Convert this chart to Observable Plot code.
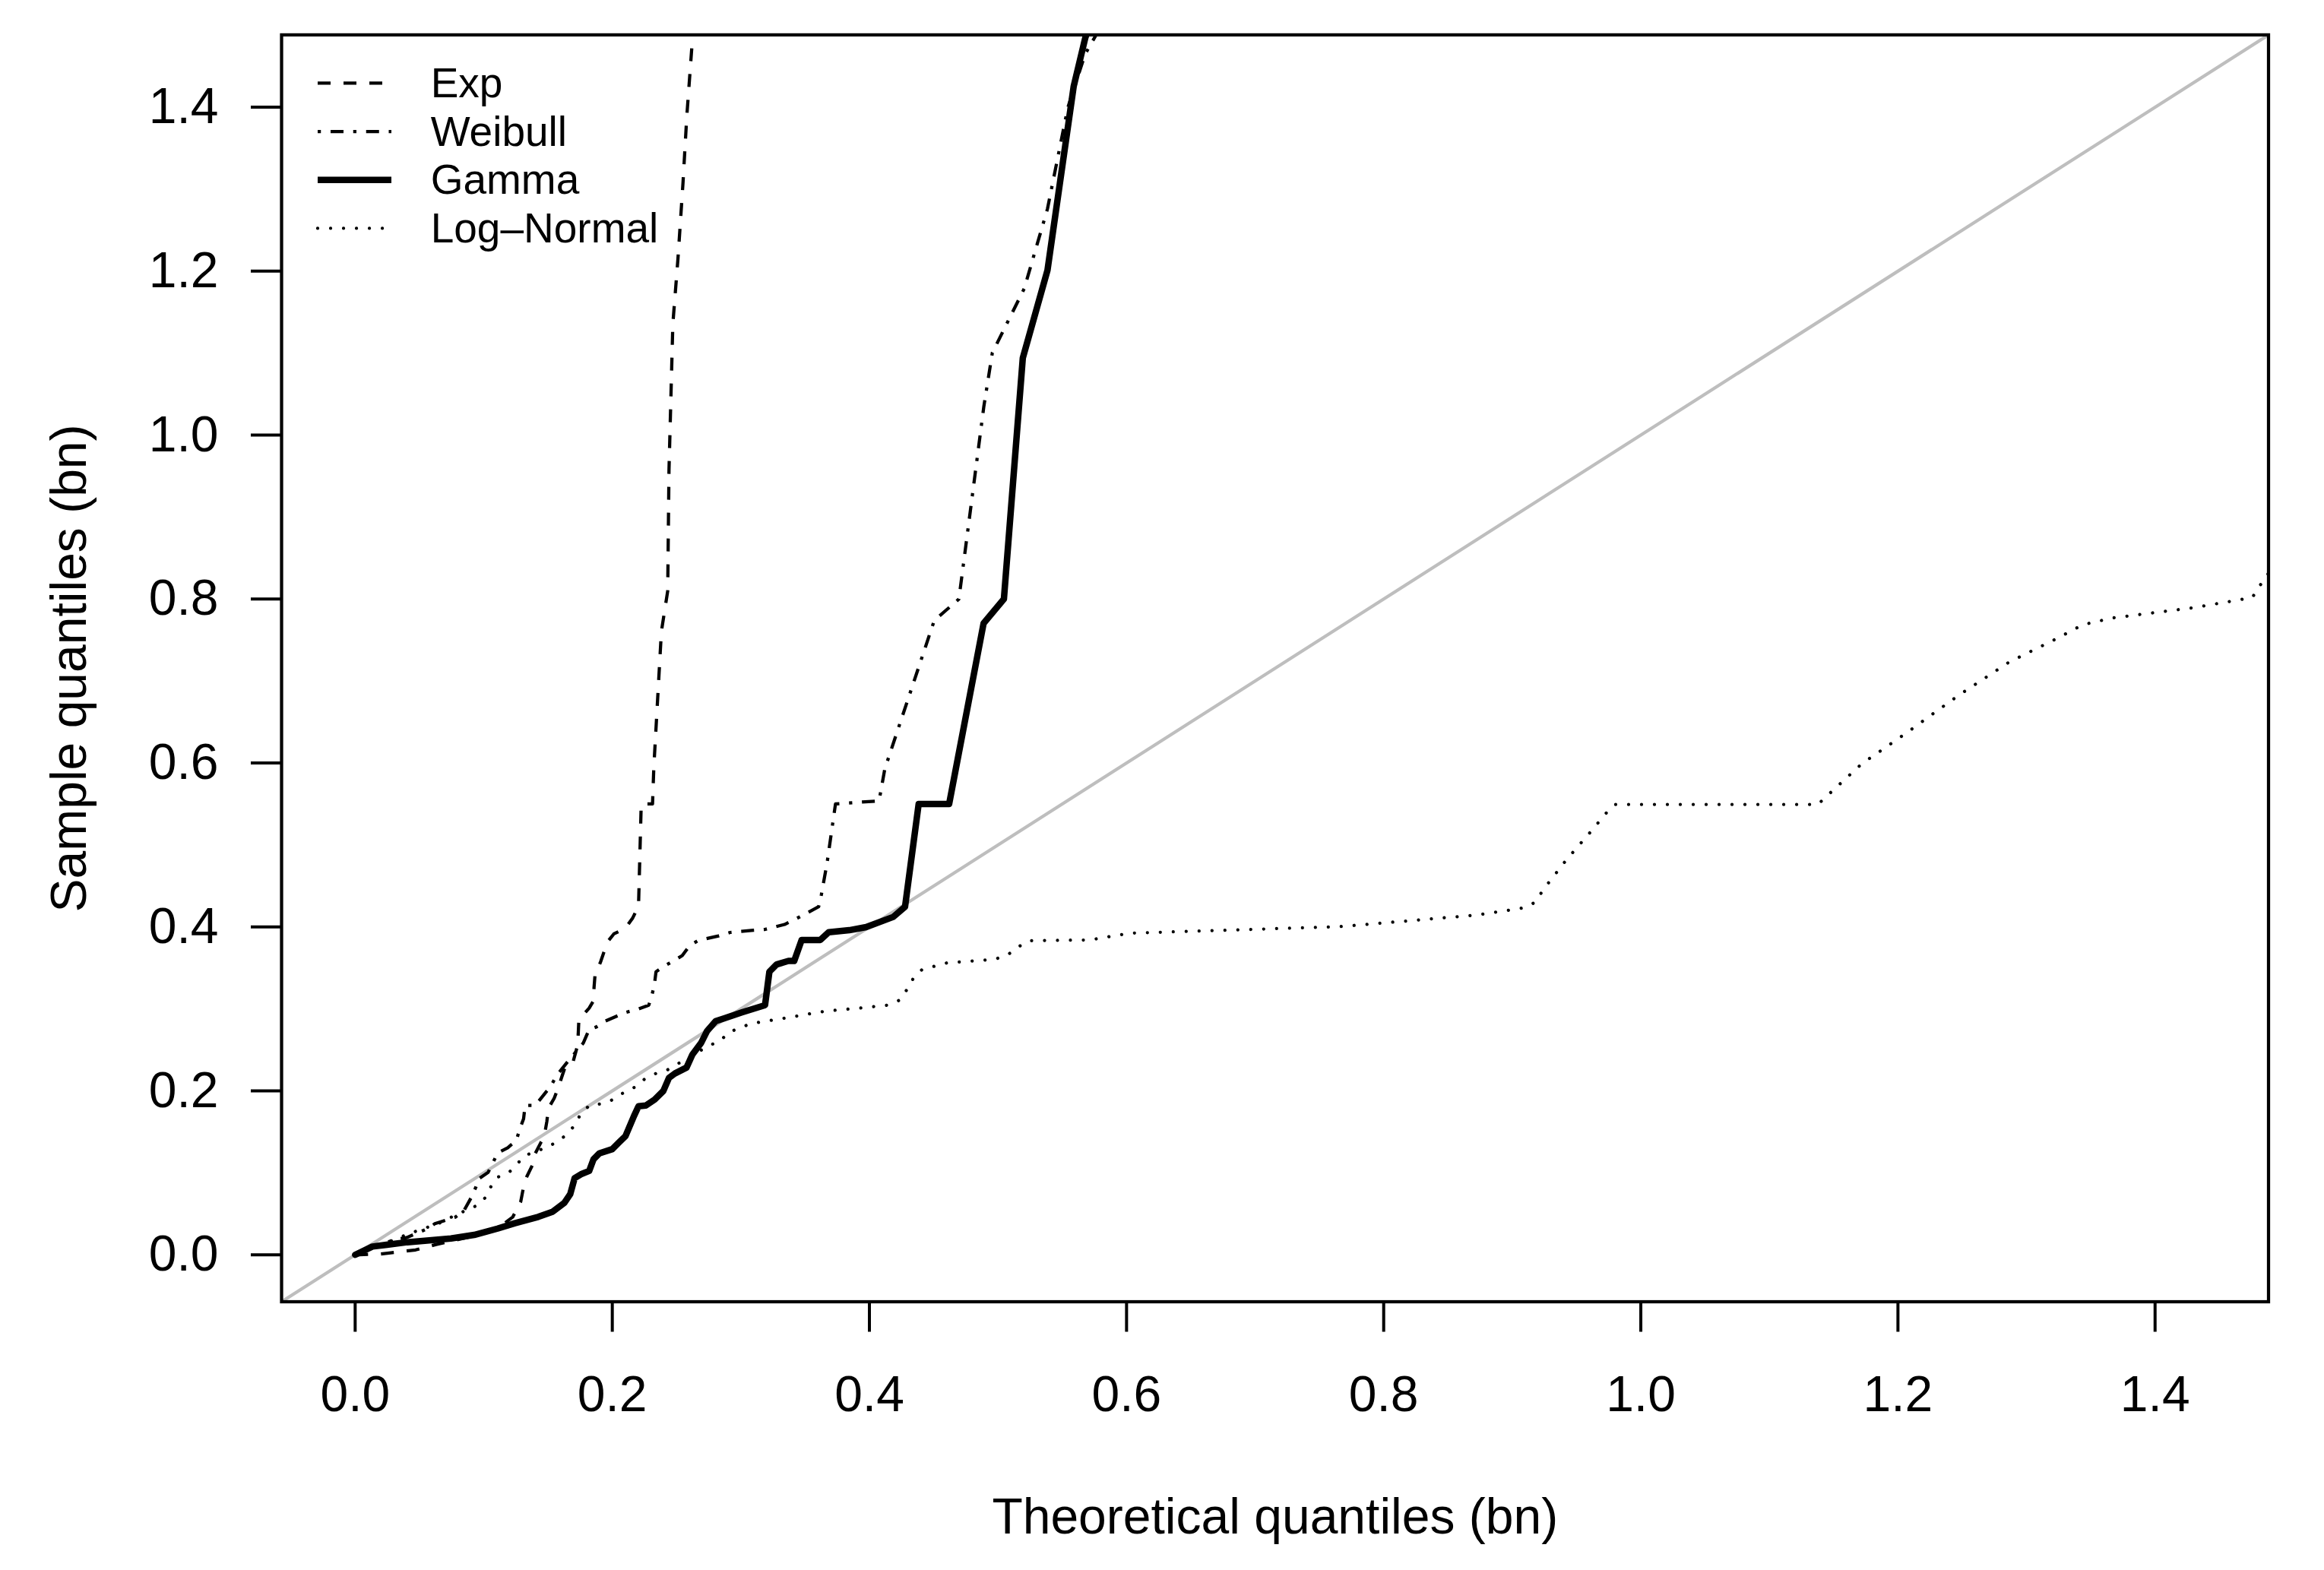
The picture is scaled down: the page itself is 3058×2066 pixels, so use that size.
<!DOCTYPE html>
<html>
<head>
<meta charset="utf-8">
<script src="https://cdn.jsdelivr.net/npm/d3@7"></script>
<script src="https://cdn.jsdelivr.net/npm/@observablehq/plot@0.6"></script>
<style>
html, body { margin: 0; padding: 0; background: #fff; }
#wrap { position: relative; width: 3058px; height: 2066px; }
#legend { position: absolute; left: 0; top: 0; pointer-events: none; }
</style>
</head>
<body>
<div id="wrap"></div>
<script>
// ---------- DATA ----------
const xTitle = "Theoretical quantiles (bn)";
const yTitle = "Sample quantiles (bn)";
const xTicks = [0, 0.2, 0.4, 0.6, 0.8, 1.0, 1.2, 1.4];
const yTicks = [0, 0.2, 0.4, 0.6, 0.8, 1.0, 1.2, 1.4];
const dataRange = [0, 1.431];            // xlim = ylim before R's 4% expansion
const seriesNames = ["Exp", "Weibull", "Gamma", "Log\u2013Normal"];

// Exp: theoretical (x) vs sample (y) quantiles
const expX = [0, 0.0195, 0.047, 0.063, 0.098, 0.114, 0.1225, 0.1254, 0.1288, 0.131, 0.1334, 0.1379, 0.1401, 0.1447, 0.1469, 0.1491, 0.1503, 0.1548, 0.1583, 0.1605, 0.1639, 0.1695, 0.1729, 0.1735, 0.174, 0.182, 0.1854, 0.1858, 0.1865, 0.191, 0.1933, 0.1967, 0.2012, 0.2103, 0.2159, 0.2204, 0.2225, 0.2313, 0.2323, 0.2382, 0.2431, 0.2441, 0.2471, 0.2511, 0.255, 0.2579, 0.2619, 0.263];
const expY = [0, 0.001, 0.006, 0.0126, 0.025, 0.036, 0.046, 0.0545, 0.065, 0.083, 0.095, 0.1095, 0.1237, 0.1378, 0.143, 0.1627, 0.1787, 0.191, 0.2053, 0.216, 0.2319, 0.2354, 0.2549, 0.2691, 0.2869, 0.301, 0.31, 0.3259, 0.34, 0.3578, 0.3684, 0.3826, 0.3915, 0.3986, 0.411, 0.4252, 0.55, 0.55, 0.5946, 0.7605, 0.8098, 0.9574, 1.1357, 1.2156, 1.3078, 1.3877, 1.4738, 1.50];

// Weibull
const weibullX = [0, 0.018, 0.032, 0.04, 0.0565, 0.062, 0.072, 0.078, 0.085, 0.09, 0.094, 0.0955, 0.1034, 0.1074, 0.1107, 0.1187, 0.1254, 0.1277, 0.131, 0.1322, 0.1401, 0.1464, 0.1527, 0.1561, 0.166, 0.1775, 0.182, 0.1876, 0.1944, 0.2103, 0.2193, 0.2284, 0.2306, 0.2328, 0.234, 0.2408, 0.2487, 0.2544, 0.26, 0.2668, 0.2826, 0.2917, 0.3098, 0.3188, 0.334, 0.3447, 0.3605, 0.3626, 0.3671, 0.3736, 0.4075, 0.412, 0.4504, 0.4696, 0.4799, 0.489, 0.4956, 0.5204, 0.5385, 0.5543, 0.5678, 0.577];
const weibullY = [0, 0.012, 0.019, 0.021, 0.032, 0.038, 0.043, 0.046, 0.055, 0.069, 0.083, 0.092, 0.1006, 0.113, 0.124, 0.1307, 0.1396, 0.152, 0.166, 0.1822, 0.1822, 0.1946, 0.207, 0.2175, 0.237, 0.2585, 0.275, 0.278, 0.2851, 0.2957, 0.2993, 0.3046, 0.3152, 0.33, 0.3454, 0.3525, 0.3595, 0.365, 0.377, 0.3834, 0.389, 0.3933, 0.396, 0.397, 0.403, 0.4114, 0.4246, 0.4391, 0.4784, 0.55, 0.5538, 0.593, 0.7737, 0.80, 0.9245, 1.035, 1.1004, 1.1787, 1.2761, 1.3994, 1.4649, 1.49];

// Gamma
const gammaX = [0, 0.0134, 0.0406, 0.0745, 0.0926, 0.1107, 0.1243, 0.1424, 0.1537, 0.1627, 0.1673, 0.1707, 0.1763, 0.182, 0.1854, 0.1899, 0.2001, 0.2057, 0.2103, 0.217, 0.2204, 0.2261, 0.2329, 0.2397, 0.2441, 0.2487, 0.2577, 0.2623, 0.2691, 0.2736, 0.2804, 0.2872, 0.3007, 0.3188, 0.3222, 0.3279, 0.337, 0.3415, 0.3473, 0.3618, 0.3684, 0.3843, 0.3974, 0.4185, 0.4277, 0.4383, 0.462, 0.4888, 0.5046, 0.5193, 0.5385, 0.5589, 0.5678, 0.571];
const gammaY = [0, 0.0101, 0.0154, 0.020, 0.0243, 0.032, 0.0386, 0.0463, 0.0527, 0.0633, 0.074, 0.0935, 0.0988, 0.1023, 0.1165, 0.1237, 0.129, 0.1379, 0.1449, 0.1698, 0.1812, 0.1822, 0.1893, 0.1999, 0.2159, 0.2212, 0.2284, 0.2443, 0.2585, 0.2727, 0.2851, 0.2886, 0.2957, 0.3046, 0.3454, 0.3543, 0.3585, 0.3585, 0.3841, 0.3841, 0.3936, 0.396, 0.3998, 0.4122, 0.4246, 0.55, 0.55, 0.7704, 0.80, 1.094, 1.2012, 1.4256, 1.484, 1.50];

// Log-Normal
const lognormX = [0, 0.02, 0.044, 0.068, 0.0767, 0.0942, 0.1012, 0.1055, 0.1107, 0.1193, 0.1254, 0.1315, 0.1496, 0.1582, 0.165, 0.1713, 0.1758, 0.1831, 0.1917, 0.2006, 0.2091, 0.2175, 0.2249, 0.2324, 0.2419, 0.2749, 0.2841, 0.2907, 0.3078, 0.3368, 0.3658, 0.3947, 0.4145, 0.4237, 0.429, 0.4343, 0.4409, 0.4606, 0.4975, 0.5081, 0.516, 0.5239, 0.5713, 0.603, 0.765, 0.8281, 0.8739, 0.9083, 0.9169, 0.9283, 0.9427, 0.9599, 0.9742, 0.9799, 1.1376, 1.1461, 1.1719, 1.2062, 1.2464, 1.2865, 1.3238, 1.3438, 1.3667, 1.4298, 1.4756, 1.4814, 1.4871, 1.495];
const lognormY = [0, 0.012, 0.027, 0.04, 0.0477, 0.0598, 0.0697, 0.0829, 0.0946, 0.0999, 0.1095, 0.1208, 0.1315, 0.1389, 0.1474, 0.1591, 0.1733, 0.1832, 0.184, 0.1893, 0.1981, 0.2045, 0.2141, 0.2205, 0.2247, 0.255, 0.2611, 0.2715, 0.282, 0.2894, 0.2973, 0.3013, 0.3046, 0.3108, 0.3232, 0.3377, 0.348, 0.3563, 0.3604, 0.3666, 0.3758, 0.3832, 0.3841, 0.3924, 0.4003, 0.4086, 0.4148, 0.4231, 0.4293, 0.4541, 0.483, 0.5141, 0.541, 0.5493, 0.5493, 0.5617, 0.599, 0.6362, 0.6817, 0.7231, 0.752, 0.7687, 0.7769, 0.7894, 0.8018, 0.8162, 0.8287, 0.85];

// ---------- BUILD ----------
const pts = (xs, ys) => xs.map((x, i) => ({x, y: ys[i]}));
const ext = 0.04 * (dataRange[1] - dataRange[0]);
const domain = [dataRange[0] - ext, dataRange[1] + ext];
const refLine = domain.map(v => ({x: v, y: v}));   // y = x reference (abline)

const W = 3058, H = 2066;
const mL = 370, mR = 73.5, mT = 45.4, mB = 353.5;
const FONT = "'Liberation Sans', Arial, Helvetica, sans-serif";
const U = 4.25; // R line-width unit in px

const styles = [
  {dash: `${4*U},${4*U}`, w: U, cap: "butt"},
  {dash: `${1*U},${3*U},${4*U},${3*U}`, w: U, cap: "butt"},
  {dash: null, w: 2*U, cap: "round"},
  {dash: `0.01,${4*U}`, w: U, cap: "round"}
];
const series = [pts(expX, expY), pts(weibullX, weibullY), pts(gammaX, gammaY), pts(lognormX, lognormY)];

const fmt = d3.format(".1f");

const plot = Plot.plot({
  width: W, height: H,
  marginLeft: mL, marginRight: mR, marginTop: mT, marginBottom: mB,
  style: {fontFamily: FONT, fontSize: "66px", background: "#fff", color: "#000"},
  x: {domain, label: null},
  y: {domain, label: null},
  marks: [
    Plot.line(refLine, {x: "x", y: "y", stroke: "#BEBEBE", strokeWidth: U, clip: true}),
    ...series.map((d, i) => Plot.line(d, {
      x: "x", y: "y", stroke: "#000", strokeWidth: styles[i].w,
      strokeDasharray: styles[i].dash ?? undefined,
      strokeLinecap: styles[i].cap, strokeLinejoin: "round", clip: true
    })),
    Plot.frame({stroke: "#000", strokeWidth: U}),
    Plot.axisX({ticks: xTicks, tickFormat: fmt, tickSize: 40, tickPadding: 57, strokeWidth: 4, label: null, fontSize: 66}),
    Plot.axisY({ticks: yTicks, tickFormat: fmt, tickSize: 40, tickPadding: 43, strokeWidth: 4, label: null, fontSize: 66}),
    Plot.text([xTitle], {text: d => d, frameAnchor: "bottom", textAnchor: "middle", lineAnchor: "bottom", dy: 304.5, fontSize: 66}),
    Plot.text([yTitle], {text: d => d, frameAnchor: "left", textAnchor: "middle", lineAnchor: "bottom", rotate: -90, dx: -258, fontSize: 66})
  ]
});
document.getElementById("wrap").appendChild(plot);

// ---------- LEGEND (top-left, inside frame) ----------
const lg = d3.select("#wrap").append("svg")
  .attr("id", "legend").attr("width", W).attr("height", H);
const legY0 = 109.3, legStep = 63.7, legX0 = 418, legX1 = 515, legTX = 566.7;
seriesNames.forEach((name, i) => {
  const y = legY0 + i * legStep;
  const s = styles[i];
  const ln = lg.append("line")
    .attr("x1", legX0).attr("x2", legX1).attr("y1", y).attr("y2", y)
    .attr("stroke", "#000").attr("stroke-width", s.w)
    .attr("stroke-linecap", s.cap === "round" && s.dash ? "round" : "butt");
  if (s.dash) ln.attr("stroke-dasharray", s.dash);
  lg.append("text")
    .attr("x", legTX).attr("y", y + 18.5)
    .attr("font-family", FONT).attr("font-size", 55).attr("fill", "#000")
    .text(name);
});
</script>
</body>
</html>
